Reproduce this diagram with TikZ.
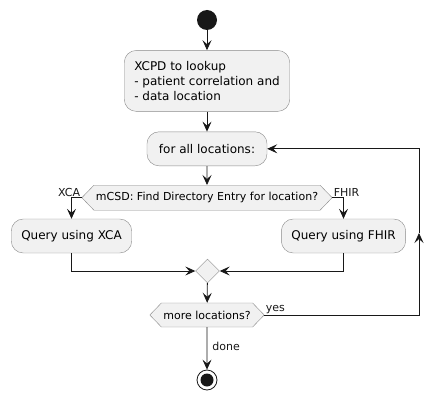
\documentclass[tikz,border=0pt]{standalone}
\usepackage{fontspec}
\setmainfont{DejaVu Sans}
\usetikzlibrary{arrows.meta,positioning,shapes.geometric,shapes.symbols}
\definecolor{actfill}{HTML}{F1F1F1}
\definecolor{actline}{HTML}{181818}
\definecolor{actborder}{HTML}{8A8A8A}
\tikzset{
  action/.style={draw=actborder, fill=actfill, rounded corners=12pt, align=left, minimum height=34pt, inner xsep=10pt, inner ysep=7pt, font=\fontsize{12}{15}\selectfont},
  choice/.style={draw=actborder, fill=actfill, signal, signal to=east and west, signal pointer angle=92, minimum height=25pt, inner xsep=2pt, inner ysep=2pt, font=\fontsize{11}{13}\selectfont},
  merge/.style={draw=actborder, fill=actfill, diamond, minimum size=24pt, inner sep=0pt},
  flow/.style={-{Stealth[length=10pt,width=9pt,inset=4pt]}, draw=actline, line width=0.8pt},
  lbl/.style={font=\fontsize{11}{13}\selectfont, inner sep=1pt, text=actline}
}

\begin{document}
\begin{tikzpicture}[x=1pt, y=-1pt, node distance=20pt]
\useasboundingbox (0,0) rectangle (444,401);
\node[circle, fill=actline, minimum size=20pt, inner sep=0pt] (start) at (207,20) {};
\node[action, below=20pt of start, minimum height=61pt] (lookup) {XCPD to lookup\\- patient correlation and\\- data location};
\node[action, below=20pt of lookup, inner xsep=12pt] (forall) {for all locations:};
\node[choice, below=19pt of forall] (dir) {mCSD: Find Directory Entry for location?};
\node[action] (xca) at (71.5,236) {Query using XCA};
\node[action] (fhir) at (343.5,236) {Query using FHIR};
\node[merge] (join) at (207.5,271) {};
\node[choice, minimum height=24pt] (more) at (207,315) {more locations?};
\node[circle, draw=actline, fill=white, line width=0.8pt, minimum size=20pt, inner sep=0pt] (stop) at (207,380) {};
\fill[actline] (stop) circle (6.5pt);
\coordinate (loopr) at (419,315);
\coordinate (loopm) at (419,233);
\coordinate (loopt) at (loopr |- forall.east);

\draw[flow] (start) -- (lookup);
\draw[flow] (lookup) -- (forall);
\draw[flow] (forall) -- (dir);
\draw[flow] (dir.west) node[lbl, above left] {XCA} -| (xca.north);
\draw[flow] (dir.east) node[lbl, above right] {FHIR} -| (fhir.north);
\draw[flow] (xca.south) |- (join.west);
\draw[flow] (fhir.south) |- (join.east);
\draw[flow] (join) -- (more);
\draw[flow] (more.east) node[lbl, above right] {yes} -- (loopr) -- (loopm);
\draw[flow] (loopm) -- (loopt) -- (forall.east);
\draw[flow] (more) -- node[lbl, right=4pt, pos=.45] {done} (stop);
\end{tikzpicture}
\end{document}
